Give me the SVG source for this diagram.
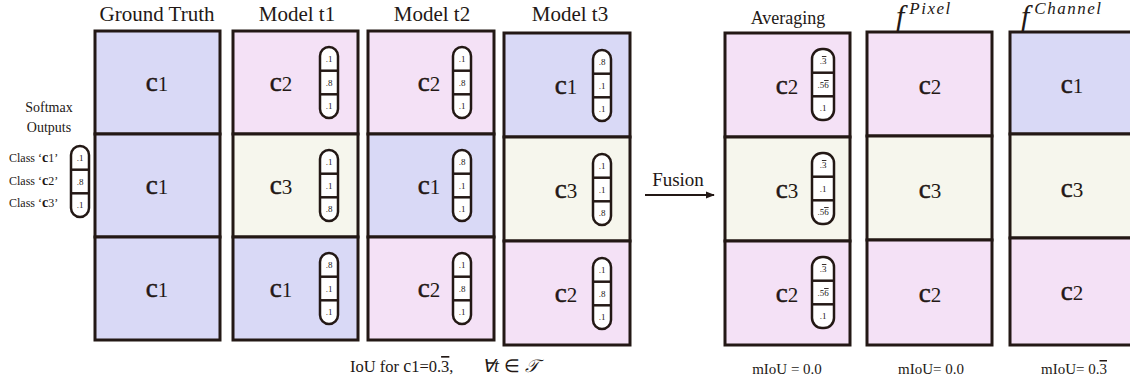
<svg xmlns="http://www.w3.org/2000/svg" width="1130" height="387" viewBox="0 0 1130 387">
<style>
text{font-family:"Liberation Serif","Times New Roman",serif;fill:#231815}
.title{font-size:21px;text-anchor:middle}
.avg{font-size:18px;text-anchor:middle}
.box{stroke:#231815;stroke-width:3}
.b{fill:#d9d9f6}.p{fill:#f4e1f6}.y{fill:#f6f6ed}
.cl{font-size:21px;text-anchor:middle}
.c{font-size:27px;stroke:#231815;stroke-width:0.5}
.pill{fill:#fff;stroke:#231815;stroke-width:2.5}
.dv{stroke:#231815;stroke-width:2.5}
.pv{font-size:9px;text-anchor:middle}
.ov{text-decoration:overline}
.sm{font-size:14px;text-anchor:middle}
.cls{font-size:12px}
.bot{font-size:15px;text-anchor:middle}
.bots{font-size:16.5px;text-anchor:start}
.math{font-style:italic}
</style>
<defs>
<marker id="ah" viewBox="0 0 10 10" refX="9" refY="5" markerWidth="9" markerHeight="9" markerUnits="userSpaceOnUse" orient="auto"><path d="M0,1 L10,5 L0,9 z" fill="#231815"/></marker>
</defs>

<!-- left legend -->
<g id="legend">
<text class="sm" x="49" y="112">Softmax</text>
<text class="sm" x="49" y="132">Outputs</text>
<text class="cls" x="9" y="162">Class ‘<tspan font-size="14" font-weight="bold">c</tspan>1’</text>
<text class="cls" x="9" y="185">Class ‘<tspan font-size="14" font-weight="bold">c</tspan>2’</text>
<text class="cls" x="9" y="207">Class ‘<tspan font-size="14" font-weight="bold">c</tspan>3’</text>
<rect class="pill" x="71" y="146" width="18" height="71" rx="9"/>
<line class="dv" x1="71" y1="169.7" x2="89" y2="169.7"/><line class="dv" x1="71" y1="193.3" x2="89" y2="193.3"/>
<text class="pv" x="80" y="161">.1</text><text class="pv" x="80" y="185">.8</text><text class="pv" x="80" y="208">.1</text>
</g>

<!-- Ground truth -->
<g id="ground-truth">
<text class="title" x="157" y="21">Ground Truth</text>
<rect class="box b" x="95" y="31" width="125" height="103"/>
<rect class="box b" x="95" y="134" width="125" height="103"/>
<rect class="box b" x="95" y="237" width="125" height="103"/>
<text class="cl" x="157" y="91"><tspan class="c">c</tspan>1</text>
<text class="cl" x="157" y="194"><tspan class="c">c</tspan>1</text>
<text class="cl" x="157" y="297"><tspan class="c">c</tspan>1</text>
</g>

<!-- Model t1 -->
<g id="model-t1">
<text class="title" x="297" y="21">Model t1</text>
<rect class="box p" x="233" y="31" width="125" height="103"/>
<rect class="box y" x="233" y="134" width="125" height="103"/>
<rect class="box b" x="233" y="237" width="125" height="103"/>
<text class="cl" x="281" y="91"><tspan class="c">c</tspan>2</text>
<text class="cl" x="281" y="194"><tspan class="c">c</tspan>3</text>
<text class="cl" x="281" y="297"><tspan class="c">c</tspan>1</text>
<g>
<rect class="pill" x="320" y="47" width="18" height="71" rx="9"/>
<line class="dv" x1="320" y1="70.7" x2="338" y2="70.7"/><line class="dv" x1="320" y1="94.3" x2="338" y2="94.3"/>
<text class="pv" x="329" y="62">.1</text><text class="pv" x="329" y="86">.8</text><text class="pv" x="329" y="109">.1</text>
</g>
<g>
<rect class="pill" x="320" y="150" width="18" height="71" rx="9"/>
<line class="dv" x1="320" y1="173.7" x2="338" y2="173.7"/><line class="dv" x1="320" y1="197.3" x2="338" y2="197.3"/>
<text class="pv" x="329" y="165">.1</text><text class="pv" x="329" y="189">.1</text><text class="pv" x="329" y="212">.8</text>
</g>
<g>
<rect class="pill" x="320" y="253" width="18" height="71" rx="9"/>
<line class="dv" x1="320" y1="276.7" x2="338" y2="276.7"/><line class="dv" x1="320" y1="300.3" x2="338" y2="300.3"/>
<text class="pv" x="329" y="268">.8</text><text class="pv" x="329" y="292">.1</text><text class="pv" x="329" y="315">.1</text>
</g>
</g>

<!-- Model t2 -->
<g id="model-t2">
<text class="title" x="432" y="21">Model t2</text>
<rect class="box p" x="368" y="31" width="126" height="103"/>
<rect class="box b" x="368" y="134" width="126" height="103"/>
<rect class="box p" x="368" y="237" width="126" height="103"/>
<text class="cl" x="429" y="91"><tspan class="c">c</tspan>2</text>
<text class="cl" x="429" y="194"><tspan class="c">c</tspan>1</text>
<text class="cl" x="429" y="297"><tspan class="c">c</tspan>2</text>
<g>
<rect class="pill" x="453" y="47" width="18" height="71" rx="9"/>
<line class="dv" x1="453" y1="70.7" x2="471" y2="70.7"/><line class="dv" x1="453" y1="94.3" x2="471" y2="94.3"/>
<text class="pv" x="462" y="62">.1</text><text class="pv" x="462" y="86">.8</text><text class="pv" x="462" y="109">.1</text>
</g>
<g>
<rect class="pill" x="453" y="150" width="18" height="71" rx="9"/>
<line class="dv" x1="453" y1="173.7" x2="471" y2="173.7"/><line class="dv" x1="453" y1="197.3" x2="471" y2="197.3"/>
<text class="pv" x="462" y="165">.8</text><text class="pv" x="462" y="189">.1</text><text class="pv" x="462" y="212">.1</text>
</g>
<g>
<rect class="pill" x="453" y="253" width="18" height="71" rx="9"/>
<line class="dv" x1="453" y1="276.7" x2="471" y2="276.7"/><line class="dv" x1="453" y1="300.3" x2="471" y2="300.3"/>
<text class="pv" x="462" y="268">.1</text><text class="pv" x="462" y="292">.8</text><text class="pv" x="462" y="315">.1</text>
</g>
</g>

<!-- Model t3 -->
<g id="model-t3">
<text class="title" x="570" y="21">Model t3</text>
<rect class="box b" x="504" y="33" width="126" height="104"/>
<rect class="box y" x="504" y="137" width="126" height="104"/>
<rect class="box p" x="504" y="241" width="126" height="104"/>
<text class="cl" x="566" y="94"><tspan class="c">c</tspan>1</text>
<text class="cl" x="566" y="198"><tspan class="c">c</tspan>3</text>
<text class="cl" x="566" y="302"><tspan class="c">c</tspan>2</text>
<g>
<rect class="pill" x="593" y="50" width="18" height="71" rx="9"/>
<line class="dv" x1="593" y1="73.7" x2="611" y2="73.7"/><line class="dv" x1="593" y1="97.3" x2="611" y2="97.3"/>
<text class="pv" x="602" y="65">.8</text><text class="pv" x="602" y="89">.1</text><text class="pv" x="602" y="112">.1</text>
</g>
<g>
<rect class="pill" x="593" y="154" width="18" height="71" rx="9"/>
<line class="dv" x1="593" y1="177.7" x2="611" y2="177.7"/><line class="dv" x1="593" y1="201.3" x2="611" y2="201.3"/>
<text class="pv" x="602" y="169">.1</text><text class="pv" x="602" y="193">.1</text><text class="pv" x="602" y="216">.8</text>
</g>
<g>
<rect class="pill" x="593" y="258" width="18" height="71" rx="9"/>
<line class="dv" x1="593" y1="281.7" x2="611" y2="281.7"/><line class="dv" x1="593" y1="305.3" x2="611" y2="305.3"/>
<text class="pv" x="602" y="273">.1</text><text class="pv" x="602" y="297">.8</text><text class="pv" x="602" y="320">.1</text>
</g>
</g>

<!-- Averaging -->
<g id="averaging">
<text class="avg" x="788" y="24">Averaging</text>
<rect class="box p" x="725" y="33" width="125" height="104"/>
<rect class="box y" x="725" y="137" width="125" height="104"/>
<rect class="box p" x="725" y="241" width="125" height="104"/>
<text class="cl" x="787" y="94"><tspan class="c">c</tspan>2</text>
<text class="cl" x="787" y="198"><tspan class="c">c</tspan>3</text>
<text class="cl" x="787" y="302"><tspan class="c">c</tspan>2</text>
<g>
<rect class="pill" x="812" y="49" width="22" height="71" rx="10"/>
<line class="dv" x1="812" y1="72.7" x2="834" y2="72.7"/><line class="dv" x1="812" y1="96.3" x2="834" y2="96.3"/>
<text class="pv" x="823" y="64">.<tspan class="ov">3</tspan></text><text class="pv" x="823" y="88">.5<tspan class="ov">6</tspan></text><text class="pv" x="823" y="111">.1</text>
</g>
<g>
<rect class="pill" x="812" y="153" width="22" height="71" rx="10"/>
<line class="dv" x1="812" y1="176.7" x2="834" y2="176.7"/><line class="dv" x1="812" y1="200.3" x2="834" y2="200.3"/>
<text class="pv" x="823" y="168">.<tspan class="ov">3</tspan></text><text class="pv" x="823" y="192">.1</text><text class="pv" x="823" y="215">.5<tspan class="ov">6</tspan></text>
</g>
<g>
<rect class="pill" x="812" y="257" width="22" height="71" rx="10"/>
<line class="dv" x1="812" y1="280.7" x2="834" y2="280.7"/><line class="dv" x1="812" y1="304.3" x2="834" y2="304.3"/>
<text class="pv" x="823" y="272">.<tspan class="ov">3</tspan></text><text class="pv" x="823" y="296">.5<tspan class="ov">6</tspan></text><text class="pv" x="823" y="319">.1</text>
</g>
</g>

<!-- f pixel -->
<g id="f-pixel">
<text x="896" y="26" class="math" font-size="30">f<tspan font-size="17" dy="-12" dx="5" letter-spacing="1.5">Pixel</tspan></text>
<rect class="box p" x="867" y="32" width="125" height="104"/>
<rect class="box y" x="867" y="136" width="125" height="104"/>
<rect class="box p" x="867" y="240" width="125" height="105"/>
<text class="cl" x="930" y="94"><tspan class="c">c</tspan>2</text>
<text class="cl" x="930" y="198"><tspan class="c">c</tspan>3</text>
<text class="cl" x="930" y="302"><tspan class="c">c</tspan>2</text>
</g>

<!-- f channel -->
<g id="f-channel">
<text x="1021" y="26" class="math" font-size="30">f<tspan font-size="17" dy="-12" dx="5" letter-spacing="1.5">Channel</tspan></text>
<rect class="box b" x="1010" y="32" width="130" height="102"/>
<rect class="box y" x="1010" y="134" width="130" height="104"/>
<rect class="box p" x="1010" y="238" width="130" height="107"/>
<text class="cl" x="1072" y="93"><tspan class="c">c</tspan>1</text>
<text class="cl" x="1072" y="197"><tspan class="c">c</tspan>3</text>
<text class="cl" x="1072" y="300"><tspan class="c">c</tspan>2</text>
</g>

<!-- connectors -->
<g id="connectors">
<text x="678" y="186" font-size="19" text-anchor="middle">Fusion</text>
<line x1="645" y1="195" x2="714" y2="195" stroke="#231815" stroke-width="2" marker-end="url(#ah)"/>
</g>

<!-- bottom labels -->
<g id="bottom-labels">
<text class="bots" x="350" y="372">IoU for <tspan font-size="18">c</tspan>1=0.<tspan class="ov">3</tspan>,</text>
<text x="482" y="372" font-size="18"><tspan class="math">∀t</tspan><tspan dx="5">∈</tspan><tspan dx="5" class="math">𝒯</tspan></text>
<text class="bot" x="787" y="374">mIoU = 0.0</text>
<text class="bot" x="931" y="374">mIoU= 0.0</text>
<text class="bot" x="1074" y="374">mIoU= 0.<tspan class="ov">3</tspan></text>
</g>
</svg>
